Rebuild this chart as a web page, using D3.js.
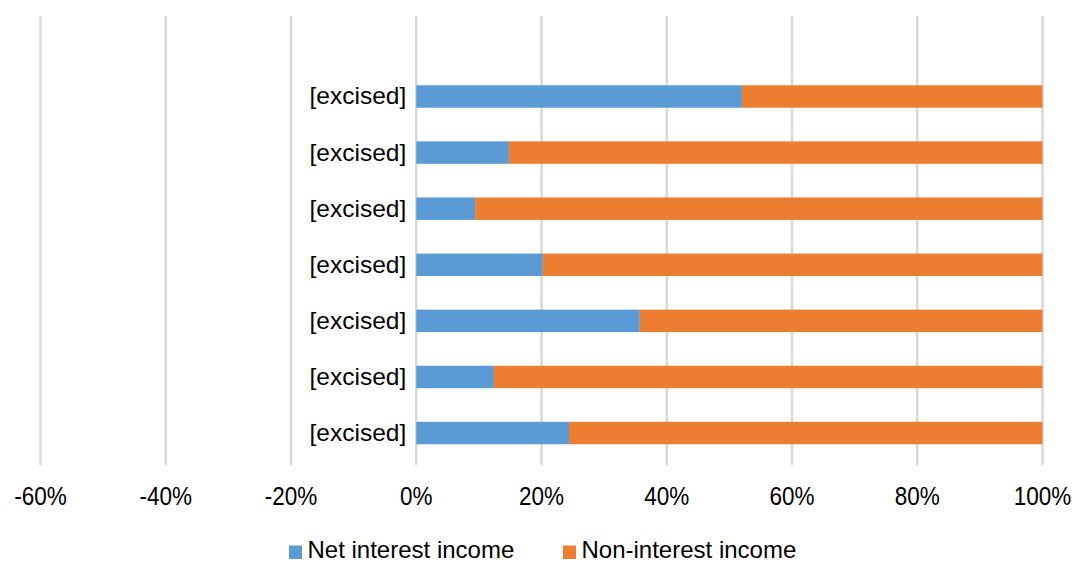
<!DOCTYPE html>
<html>
<head>
<meta charset="utf-8">
<script src="https://cdn.jsdelivr.net/npm/d3@7"></script>
<style>
  html, body { margin: 0; padding: 0; background: #fff; }
  svg { display: block; font-family: "Liberation Sans", Arial, sans-serif; }
</style>
</head>
<body>
<svg id="chart" width="1072" height="562"></svg>
<script>
// Income mix per institution (share of total income)
const categories = ["[excised]", "[excised]", "[excised]", "[excised]", "[excised]", "[excised]", "[excised]"];
const netInterest = [0.52, 0.148, 0.094, 0.202, 0.357, 0.124, 0.244];
const nonInterest = netInterest.map(v => 1 - v);
const seriesNames = ["Net interest income", "Non-interest income"];
const seriesColors = ["#5B9BD5", "#ED7D31"];
const tickValues = [-0.6, -0.4, -0.2, 0, 0.2, 0.4, 0.6, 0.8, 1.0];
const tickLabels = ["-60%", "-40%", "-20%", "0%", "20%", "40%", "60%", "80%", "100%"];

const svg = d3.select("#chart");

const x = d3.scaleLinear().domain([-0.6, 1.0]).range([40.5, 1042.5]);
const y = d3.scaleBand()
  .domain(d3.range(categories.length))
  .range([68.45, 461.1])
  .paddingInner(0.6)
  .paddingOuter(0.3);

const gridTop = 16, gridBottom = 465;

// vertical gridlines
svg.append("g").selectAll("line")
  .data(tickValues)
  .join("line")
  .attr("x1", d => x(d)).attr("x2", d => x(d))
  .attr("y1", gridTop).attr("y2", gridBottom)
  .attr("stroke", "#d9d9d9")
  .attr("stroke-width", 2.5);

// stacked bars
const rows = categories.map((c, i) => ({ i, parts: [netInterest[i], nonInterest[i]] }));
const stack = d3.stack().keys([0, 1]).value((d, k) => d.parts[k]);
const layers = stack(rows);

svg.append("g").selectAll("g")
  .data(layers)
  .join("g")
  .attr("fill", (d, k) => seriesColors[k])
  .selectAll("rect")
  .data(d => d)
  .join("rect")
  .attr("x", d => x(d[0]))
  .attr("width", d => x(d[1]) - x(d[0]))
  .attr("y", d => y(d.data.i))
  .attr("height", y.bandwidth());

// category labels
svg.append("g").selectAll("text")
  .data(categories)
  .join("text")
  .attr("x", x(0) - 10)
  .attr("y", (d, i) => y(i) + y.bandwidth() / 2 + 8)
  .attr("text-anchor", "end")
  .attr("font-size", 24.5)
  .attr("fill", "#000")
  .text(d => d);

// x-axis tick labels
svg.append("g").selectAll("text")
  .data(tickValues)
  .join("text")
  .attr("transform", d => `translate(${x(d)},504.5) scale(0.9,1)`)
  .attr("text-anchor", "middle")
  .attr("font-size", 25)
  .attr("fill", "#000")
  .text((d, i) => tickLabels[i]);

// legend
const legendX = [289, 563];
const legend = svg.append("g").selectAll("g")
  .data(seriesNames)
  .join("g");
legend.append("rect")
  .attr("x", (d, k) => legendX[k])
  .attr("y", 545.5)
  .attr("width", 13)
  .attr("height", 13.5)
  .attr("fill", (d, k) => seriesColors[k]);
legend.append("text")
  .attr("x", (d, k) => legendX[k] + 18.5)
  .attr("y", 557.5)
  .attr("font-size", 24)
  .attr("fill", "#000")
  .text(d => d);
</script>
</body>
</html>
